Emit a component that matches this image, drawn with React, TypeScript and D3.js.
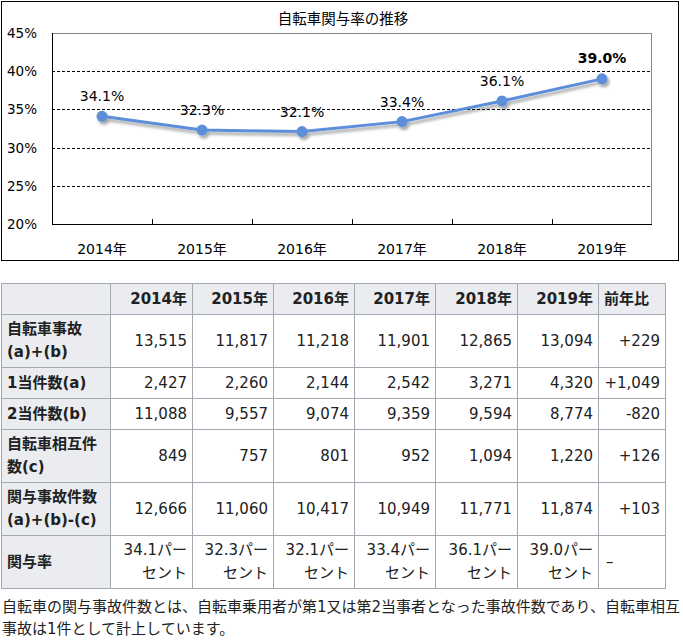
import React from 'react';
import * as d3 from 'd3';

const years = ['2014年', '2015年', '2016年', '2017年', '2018年', '2019年'];
const rates = [34.1, 32.3, 32.1, 33.4, 36.1, 39.0];
const yTicks = [20, 25, 30, 35, 40, 45];
const chartTitle = '自転車関与率の推移';

const headerLabels = [...years, '前年比'];
const rowLabels = [
  ['自転車事故', '(a)+(b)'],
  ['1当件数(a)'],
  ['2当件数(b)'],
  ['自転車相互件', '数(c)'],
  ['関与事故件数', '(a)+(b)-(c)'],
  ['関与率'],
];
const totalAccidents = ['13,515', '11,817', '11,218', '11,901', '12,865', '13,094', '+229'];
const firstParty = ['2,427', '2,260', '2,144', '2,542', '3,271', '4,320', '+1,049'];
const secondParty = ['11,088', '9,557', '9,074', '9,359', '9,594', '8,774', '-820'];
const mutual = ['849', '757', '801', '952', '1,094', '1,220', '+126'];
const involved = ['12,666', '11,060', '10,417', '10,949', '11,771', '11,874', '+103'];
const rateCells = [...rates.map((r) => [`${r.toFixed(1)}パー`, 'セント']), ['–']];
const footnote = [
  '自転車の関与事故件数とは、自転車乗用者が第1又は第2当事者となった事故件数であり、自転車相互',
  '事故は1件として計上しています。',
];

const FONT = '"DejaVu Sans", "Noto Sans CJK JP", sans-serif';
const JP = '"Noto Sans CJK JP", "DejaVu Sans", sans-serif';
const LINE = '#5B8EDA';
const TXT = '#202122';

export default function App() {
  // chart geometry
  const pl = 52, pr = 652, pt = 33, pb = 224;
  const x = d3.scaleBand<string>().domain(years).range([pl, pr]);
  const y = d3.scaleLinear().domain([20, 45]).range([pb, pt]);
  const line = d3
    .line<number>()
    .x((_, i) => (x(years[i]) as number) + x.bandwidth() / 2)
    .y((d) => y(d));

  // table geometry
  const colEdges = [1, 110, 192, 273, 354, 435, 517, 598, 665];
  const rowEdges = [283, 314, 367, 398, 429, 482, 535, 588];
  const rows = [totalAccidents, firstParty, secondParty, mutual, involved];
  const lh = 23;

  const cellLines = (lines: string[], rowIdx: number) => {
    const cy = (rowEdges[rowIdx] + rowEdges[rowIdx + 1]) / 2;
    const start = cy - ((lines.length - 1) * lh) / 2;
    return lines.map((l, k) => ({ text: l, y: start + k * lh + 5 }));
  };

  return (
    <svg
      width={683}
      height={642}
      style={{ position: 'absolute', left: 0, top: 0, background: '#fff' }}
    >
      <defs>
        <filter id="sh" x="-10%" y="-30%" width="120%" height="160%">
          <feGaussianBlur in="SourceAlpha" stdDeviation="1.5" />
          <feOffset dx="2" dy="3" result="b" />
          <feComponentTransfer>
            <feFuncA type="linear" slope="0.35" />
          </feComponentTransfer>
          <feMerge>
            <feMergeNode />
            <feMergeNode in="SourceGraphic" />
          </feMerge>
        </filter>
      </defs>

      {/* Chart frame */}
      <rect x={1.5} y={1.5} width={677} height={259} fill="#fff" stroke="#000" strokeWidth={1} />
      <text x={343} y={24} textAnchor="middle" fontFamily={JP} fontSize={14.5} fill="#000">
        {chartTitle}
      </text>

      {/* plot area border */}
      <line x1={pl} x2={pr} y1={pt + 0.5} y2={pt + 0.5} stroke="#888" />
      <line x1={pr - 0.5} x2={pr - 0.5} y1={pt} y2={pb} stroke="#888" />

      {/* gridlines */}
      {yTicks
        .filter((t) => t !== 20 && t !== 45)
        .map((t) => (
          <line
            key={t}
            x1={pl}
            x2={pr}
            y1={Math.round(y(t)) + 0.5}
            y2={Math.round(y(t)) + 0.5}
            stroke="#000"
            strokeDasharray="3,2"
            strokeWidth={1}
          />
        ))}

      {/* axes */}
      <line x1={pl + 0.5} x2={pl + 0.5} y1={pt} y2={pb} stroke="#000" />
      <line x1={pl} x2={pr} y1={pb + 0.5} y2={pb + 0.5} stroke="#000" />
      {years.slice(1).map((yr) => (
        <line
          key={yr}
          x1={Math.round(x(yr) as number) + 0.5}
          x2={Math.round(x(yr) as number) + 0.5}
          y1={pb}
          y2={pb - 5}
          stroke="#000"
        />
      ))}

      {yTicks.map((t) => (
        <text key={t} x={37} y={y(t) + 5} textAnchor="end" fontFamily={FONT} fontSize={13.5} fill="#000">
          {t}%
        </text>
      ))}
      {years.map((yr) => (
        <text
          key={yr}
          x={(x(yr) as number) + x.bandwidth() / 2}
          y={254}
          textAnchor="middle"
          fontFamily={FONT}
          fontSize={14}
          fill="#000"
        >
          {yr}
        </text>
      ))}

      {/* series */}
      <g filter="url(#sh)">
        <path d={line(rates) || ''} fill="none" stroke={LINE} strokeWidth={3} strokeLinejoin="round" />
        {rates.map((r, i) => (
          <circle key={i} cx={(x(years[i]) as number) + x.bandwidth() / 2} cy={y(r)} r={5.5} fill={LINE} />
        ))}
      </g>
      {rates.map((r, i) => {
        const last = i === rates.length - 1;
        return (
          <text
            key={i}
            x={(x(years[i]) as number) + x.bandwidth() / 2}
            y={y(r) - (last ? 16 : 15)}
            textAnchor="middle"
            fontFamily={FONT}
            fontSize={14}
            fontWeight={last ? 'bold' : 'normal'}
            fill="#000"
          >
            {r.toFixed(1)}%
          </text>
        );
      })}

      {/* Table */}
      <g fontFamily={FONT} fontSize={15} fill={TXT}>
        {/* backgrounds */}
        <rect x={colEdges[0]} y={rowEdges[0]} width={colEdges[8] - colEdges[0]} height={rowEdges[1] - rowEdges[0]} fill="#eaecf0" />
        <rect x={colEdges[0]} y={rowEdges[0]} width={colEdges[1] - colEdges[0]} height={rowEdges[7] - rowEdges[0]} fill="#eaecf0" />
        {/* grid */}
        {colEdges.map((cx, i) => (
          <line key={'c' + i} x1={cx + 0.5} x2={cx + 0.5} y1={rowEdges[0]} y2={rowEdges[7]} stroke="#a2a9b1" strokeWidth={1} />
        ))}
        {rowEdges.map((ry, i) => (
          <line key={'r' + i} x1={colEdges[0]} x2={colEdges[8] + 1} y1={ry + 0.5} y2={ry + 0.5} stroke="#a2a9b1" strokeWidth={1} />
        ))}

        {/* header */}
        {headerLabels.map((h, i) => {
          const isLast = i === headerLabels.length - 1;
          return (
            <text
              key={h}
              x={isLast ? colEdges[i + 1] + 6 : colEdges[i + 2] - 5}
              y={(rowEdges[0] + rowEdges[1]) / 2 + 5}
              textAnchor={isLast ? 'start' : 'end'}
              fontWeight="bold"
              fill={TXT}
            >
              {h}
            </text>
          );
        })}

        {/* row labels */}
        {rowLabels.map((lines, ri) =>
          cellLines(lines, ri + 1).map((l, k) => (
            <text key={`rl${ri}-${k}`} x={7} y={l.y} fontWeight="bold" fill={TXT}>
              {l.text}
            </text>
          ))
        )}

        {/* numeric rows */}
        {rows.map((vals, ri) =>
          vals.map((v, ci) => (
            <text
              key={`v${ri}-${ci}`}
              x={colEdges[ci + 2] - 5}
              y={(rowEdges[ri + 1] + rowEdges[ri + 2]) / 2 + 5}
              textAnchor="end"
              fill={TXT}
            >
              {v}
            </text>
          ))
        )}

        {/* rate row */}
        {rateCells.map((lines, ci) => {
          const isLast = ci === rateCells.length - 1;
          return cellLines(lines, 6).map((l, k) => (
            <text
              key={`rt${ci}-${k}`}
              x={isLast ? colEdges[ci + 1] + 8 : colEdges[ci + 2] - 5}
              y={l.y}
              textAnchor={isLast ? 'start' : 'end'}
              fill={TXT}
            >
              {l.text}
            </text>
          ));
        })}
      </g>

      {/* footnote */}
      {footnote.map((f, i) => (
        <text key={i} x={2} y={612 + i * 22} fontFamily={FONT} fontSize={15} fill={TXT}>
          {f}
        </text>
      ))}
    </svg>
  );
}
